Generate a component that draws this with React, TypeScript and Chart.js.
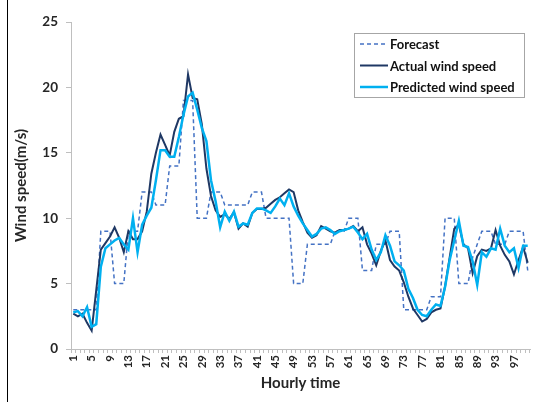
import { useEffect, useRef } from 'react';
import { Chart, registerables } from 'chart.js';

Chart.register(...registerables);

const hours: string[] = Array.from({ length: 100 }, (_, i) => String(i + 1));

const forecast: number[] = [
  3, 3, 3, 3, 3, 3, 9, 9, 9, 5,
  5, 5, 9, 9, 9, 12, 12, 12, 11, 11,
  11, 14, 14, 14, 19, 19, 19, 10, 10, 10,
  12, 12, 12, 11, 11, 11, 11, 11, 11, 12,
  12, 12, 10, 10, 10, 10, 10, 10, 5, 5,
  5, 8, 8, 8, 8, 8, 8, 9, 9, 9,
  10, 10, 10, 6, 6, 6, 8, 8, 8, 9,
  9, 9, 3, 3, 3, 3, 3, 3, 4, 4,
  4, 10, 10, 10, 5, 5, 5, 7, 8, 9,
  9, 9, 8, 8, 8, 9, 9, 9, 9, 6,
];

const actual: number[] = [
  2.7, 2.5, 2.7, 2.0, 1.4, 4.5, 7.6, 8.1, 8.6, 9.3,
  8.5, 7.4, 9.0, 8.4, 8.4, 9.0, 10.5, 13.4, 15.0, 16.4,
  15.6, 14.8, 16.6, 17.6, 17.8, 21.0, 19.2, 19.1, 17.2, 13.8,
  11.7, 10.6, 10.1, 10.3, 9.95, 10.45, 9.2, 9.6, 9.35, 10.4,
  10.7, 10.7, 10.8, 11.1, 11.4, 11.6, 11.9, 12.2, 12.0, 10.6,
  9.7, 8.9, 8.5, 8.7, 9.4, 9.2, 9.0, 8.9, 9.1, 9.1,
  9.2, 9.4, 9.0, 9.3, 8.0, 7.3, 6.4, 7.5, 8.3, 6.8,
  6.3, 6.0, 5.1, 4.0, 3.1, 2.6, 2.1, 2.3, 2.8, 3.0,
  3.1, 4.8, 7.0, 9.2, 9.5, 8.0, 7.7, 5.8, 7.1, 7.6,
  7.5, 7.7, 9.1, 7.9, 7.2, 6.7, 5.7, 6.8, 7.8, 6.6,
];

const predicted: number[] = [
  2.8, 2.9, 2.5, 3.2, 1.7, 1.9, 6.3, 7.7, 8.0, 8.3,
  8.5, 8.0, 7.6, 10.0, 7.4, 9.5, 10.2, 10.8, 12.9, 15.2,
  15.2, 14.7, 14.7, 16.2, 17.9, 19.3, 19.6, 18.3, 16.9, 15.9,
  12.9, 11.3, 9.3, 10.5, 9.8, 10.5, 9.35, 9.6, 9.5, 10.4,
  10.75, 10.75, 10.6, 10.4, 10.9, 11.5, 11.0, 11.9, 10.9, 10.2,
  9.6, 9.1, 8.6, 8.8, 9.2, 9.3, 9.1, 8.8, 9.0, 9.1,
  9.2, 9.35, 8.9, 8.4, 8.8, 7.6, 6.8, 7.4, 8.7, 7.9,
  6.7, 6.4, 6.0, 4.6, 3.9, 3.0, 2.6, 2.5, 3.0, 3.4,
  3.3, 4.75, 6.8, 8.3, 9.8, 7.9, 7.8, 6.7, 4.9, 7.4,
  7.05, 7.7, 7.6, 9.2, 7.9, 7.4, 7.7, 6.2, 7.9, 7.9,
];

const FONT = 'Lato, "Open Sans", "DejaVu Sans", sans-serif';
const TEXT = '#262626';
const AXIS = '#BFBFBF';

const boxLegend = {
  id: 'boxLegend',
  afterDraw(chart: any) {
    const { ctx, chartArea } = chart;
    const w = 170;
    const h = 64;
    const x = chartArea.right - w - 6;
    const y = chartArea.top + 11;
    ctx.save();
    ctx.fillStyle = '#ffffff';
    ctx.fillRect(x, y, w, h);
    ctx.strokeStyle = '#A6A6A6';
    ctx.lineWidth = 1;
    ctx.strokeRect(x + 0.5, y + 0.5, w, h);
    ctx.font = `bold 13px ${FONT}`;
    ctx.textBaseline = 'middle';
    ctx.textAlign = 'left';
    chart.data.datasets.forEach((ds: any, i: number) => {
      const cy = y + 11 + i * 21.5;
      ctx.beginPath();
      ctx.strokeStyle = ds.borderColor;
      ctx.lineWidth = ds.borderWidth;
      ctx.setLineDash(ds.borderDash || []);
      ctx.moveTo(x + 6, cy);
      ctx.lineTo(x + 34, cy);
      ctx.stroke();
      ctx.setLineDash([]);
      ctx.fillStyle = '#111';
      ctx.fillText(ds.label, x + 36, cy + 1);
    });
    ctx.restore();
  },
};

export default function App() {
  const ref = useRef<HTMLCanvasElement | null>(null);

  useEffect(() => {
    if (!ref.current) return;
    const chart = new Chart(ref.current, {
      type: 'line',
      data: {
        labels: hours,
        datasets: [
          {
            label: 'Forecast',
            data: forecast,
            borderColor: '#4472C4',
            borderWidth: 1.5,
            borderDash: [4, 3],
            pointRadius: 0,
            tension: 0,
            order: 3,
          },
          {
            label: 'Actual wind speed',
            data: actual,
            borderColor: '#1F3864',
            borderWidth: 2,
            pointRadius: 0,
            tension: 0,
            order: 2,
          },
          {
            label: 'Predicted wind speed',
            data: predicted,
            borderColor: '#00B0F0',
            borderWidth: 2.5,
            pointRadius: 0,
            tension: 0,
            order: 1,
          },
        ],
      },
      options: {
        responsive: false,
        animation: false,
        layout: { padding: { left: 0, right: 5, top: 22, bottom: 0 } },
        plugins: {
          legend: { display: false },
          tooltip: { enabled: false },
        },
        scales: {
          x: {
            type: 'category',
            offset: true,
            grid: {
              display: true,
              drawOnChartArea: false,
              drawTicks: true,
              tickLength: 4,
              color: AXIS,
              offset: true,
            },
            border: { color: AXIS, width: 1 },
            ticks: {
              autoSkip: false,
              maxRotation: 90,
              minRotation: 90,
              padding: 2,
              color: TEXT,
              font: { family: FONT, size: 11.5, weight: 'bold' },
              callback: (_v: any, i: number) => (i % 4 === 0 ? hours[i] : ''),
            },
            title: {
              display: true,
              text: 'Hourly time',
              color: TEXT,
              font: { family: FONT, size: 15, weight: 'bold' },
              padding: { top: 0, bottom: 10 },
            },
            afterFit: (s: any) => {
              s.height = 53;
              s.paddingLeft = 0;
              s.paddingRight = 0;
            },
          },
          y: {
            min: 0,
            max: 25,
            grid: {
              display: true,
              drawOnChartArea: false,
              drawTicks: true,
              tickLength: 5,
              color: AXIS,
            },
            border: { color: AXIS, width: 1 },
            ticks: {
              stepSize: 5,
              padding: 8,
              color: TEXT,
              font: { family: FONT, size: 13.5, weight: 'bold' },
            },
            title: {
              display: true,
              text: 'Wind speed(m/s)',
              color: TEXT,
              font: { family: FONT, size: 15, weight: 'bold' },
              padding: { top: 12, bottom: 0 },
            },
            afterFit: (s: any) => {
              s.width = 71;
              s.paddingTop = 0;
              s.paddingBottom = 0;
            },
          },
        },
      },
      plugins: [boxLegend],
    } as any);
    return () => chart.destroy();
  }, []);

  return (
    <div style={{ position: 'fixed', left: 0, top: 0, width: 535, height: 402, background: '#fff' }}>
      <canvas ref={ref} width={535} height={402} style={{ display: 'block' }} />
      <div style={{ position: 'absolute', left: 7, top: 0, width: 1, height: 402, background: '#000' }} />
    </div>
  );
}
